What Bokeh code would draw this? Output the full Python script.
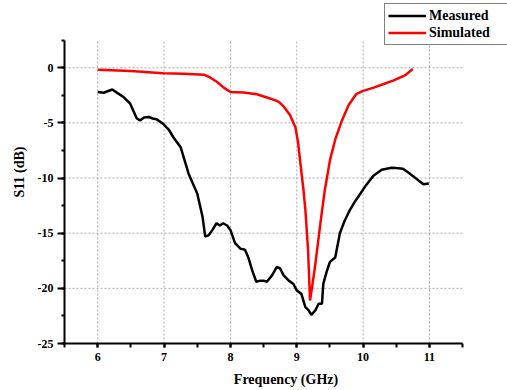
from bokeh.plotting import figure
from bokeh.models import Legend, LegendItem, FixedTicker, Range1d
from bokeh.embed import file_html
from bokeh.resources import INLINE

# Measured S11
meas_f = [6.0, 6.09, 6.22, 6.3, 6.39, 6.49, 6.59, 6.64, 6.7, 6.77, 6.83, 6.89, 6.99, 7.07,
          7.14, 7.25, 7.37, 7.5, 7.58, 7.62, 7.67, 7.73, 7.79, 7.84, 7.89, 7.95, 8.0, 8.07,
          8.15, 8.22, 8.27, 8.33, 8.39, 8.45, 8.5, 8.55, 8.63, 8.7, 8.75, 8.8, 8.88, 8.95,
          9.0, 9.07, 9.13, 9.18, 9.22, 9.28, 9.33, 9.38, 9.4, 9.45, 9.5, 9.58, 9.65, 9.72,
          9.8, 9.88, 9.96, 10.05, 10.16, 10.28, 10.43, 10.5, 10.6, 10.68, 10.76, 10.85,
          10.91, 10.99]
meas_s11 = [-2.2, -2.27, -1.97, -2.3, -2.66, -3.26, -4.6, -4.77, -4.5, -4.47, -4.6, -4.68,
            -5.1, -5.6, -6.3, -7.2, -9.6, -11.4, -13.5, -15.3, -15.2, -14.7, -14.1, -14.3,
            -14.1, -14.3, -14.7, -15.9, -16.4, -16.5, -17.2, -18.4, -19.4, -19.3, -19.3,
            -19.4, -18.8, -18.06, -18.2, -18.8, -19.3, -19.6, -20.2, -20.5, -21.7, -22.0,
            -22.4, -22.0, -21.4, -21.4, -19.6, -18.5, -17.6, -17.2, -15.0, -13.9, -12.9,
            -12.1, -11.4, -10.6, -9.76, -9.24, -9.06, -9.1, -9.15, -9.5, -9.85, -10.3,
            -10.57, -10.5]

# Simulated S11
sim_f = [6.0, 6.5, 6.99, 7.3, 7.6, 7.7, 7.8, 7.9, 8.0, 8.2, 8.4, 8.55, 8.7, 8.75, 8.8,
         8.85, 8.9, 8.95, 8.98, 9.02, 9.05, 9.1, 9.13, 9.17, 9.2, 9.24, 9.28, 9.35, 9.42,
         9.5, 9.58, 9.68, 9.78, 9.9, 10.0, 10.16, 10.3, 10.46, 10.63, 10.75]
sim_s11 = [-0.18, -0.3, -0.49, -0.55, -0.63, -0.9, -1.3, -1.8, -2.2, -2.25, -2.4, -2.7,
           -3.0, -3.2, -3.5, -3.9, -4.3, -5.0, -5.4, -6.8, -8.4, -11.0, -12.9, -16.5,
           -21.1, -19.5, -17.8, -14.4, -11.2, -8.4, -6.5, -4.8, -3.4, -2.36, -2.1, -1.8,
           -1.5, -1.15, -0.7, -0.1]

x_ticks = [6, 7, 8, 9, 10, 11]
y_ticks = [-25, -20, -15, -10, -5, 0]
y_tick_labels = ["-25", "-20", "-15", "-10", "-5", "0"]
series_names = ["Measured", "Simulated"]

X_AXIS = (5.5, 11.5)
Y_AXIS = (-25, 2.5)

FONT = "Liberation Serif"

# frame spans to the top and right edge so the legend can sit there unclipped;
# the axes themselves are bounded to the reference's axis extents
p = figure(width=507, height=390, output_backend="svg", toolbar_location=None,
           x_range=Range1d(5.5, 12.176), y_range=Range1d(-25, 6.096),
           min_border_left=64, min_border_top=0, min_border_right=0, min_border_bottom=47)
p.outline_line_color = None
p.background_fill_color = "white"
p.border_fill_color = "white"
p.xgrid.visible = False
p.ygrid.visible = False

# dotted grid restricted to the axis extents
gx = [t for t in x_ticks]
p.segment(x0=gx, x1=gx, y0=[Y_AXIS[0]] * len(gx), y1=[Y_AXIS[1]] * len(gx),
          line_color="#aaaaaa", line_dash="2 2", line_width=1)
gy = [t for t in y_ticks if t != Y_AXIS[0]]
p.segment(x0=[X_AXIS[0]] * len(gy), x1=[X_AXIS[1]] * len(gy), y0=gy, y1=gy,
          line_color="#aaaaaa", line_dash="2 2", line_width=1)

r1 = p.line(meas_f, meas_s11, line_color="black", line_width=2.5)
r2 = p.line(sim_f, sim_s11, line_color="#ff0000", line_width=2.5)

p.xaxis.ticker = FixedTicker(ticks=x_ticks, minor_ticks=[5.5 + 0.5 * i for i in range(13)])
p.yaxis.ticker = FixedTicker(ticks=y_ticks, minor_ticks=[-25 + 2.5 * i for i in range(12)])
p.yaxis.major_label_overrides = {t: l for t, l in zip(y_ticks, y_tick_labels)}
p.xaxis.bounds = X_AXIS
p.yaxis.bounds = Y_AXIS

for ax in (p.xaxis[0], p.yaxis[0]):
    ax.axis_line_width = 2
    ax.axis_line_color = "black"
    ax.major_tick_line_width = 2
    ax.minor_tick_line_width = 2
    ax.major_tick_in = 0
    ax.minor_tick_in = 0
    ax.major_label_text_font = FONT
    ax.major_label_text_font_style = "bold"
    ax.major_label_text_font_size = "12px"
    ax.major_label_text_color = "black"
    ax.axis_label_text_font = FONT
    ax.axis_label_text_font_style = "bold"
    ax.axis_label_text_font_size = "14px"
    ax.axis_label_text_color = "black"

p.xaxis.major_tick_out = 4
p.xaxis.minor_tick_out = 4
p.xaxis.major_label_standoff = 5
p.xaxis.axis_label = "Frequency (GHz)"
p.xaxis.axis_label_standoff = 8

p.yaxis.major_tick_out = 7
p.yaxis.minor_tick_out = 3
p.yaxis.major_label_standoff = 4
p.yaxis.axis_label = "S11 (dB)"
p.yaxis.axis_label_standoff = 8

legend = Legend(items=[LegendItem(label=series_names[0], renderers=[r1]),
                       LegendItem(label=series_names[1], renderers=[r2])],
                location=(320, 298))
legend.label_text_font = FONT
legend.label_text_font_style = "bold"
legend.label_text_font_size = "14px"
legend.label_text_color = "black"
legend.border_line_color = "black"
legend.border_line_width = 1
legend.background_fill_alpha = 1
legend.padding = 3
legend.margin = 0
legend.spacing = 0
legend.glyph_width = 38
legend.glyph_height = 17
legend.label_height = 17
legend.label_width = 110
legend.label_standoff = 3
p.add_layout(legend, "center")

open("out.html", "w").write(file_html(p, INLINE))
